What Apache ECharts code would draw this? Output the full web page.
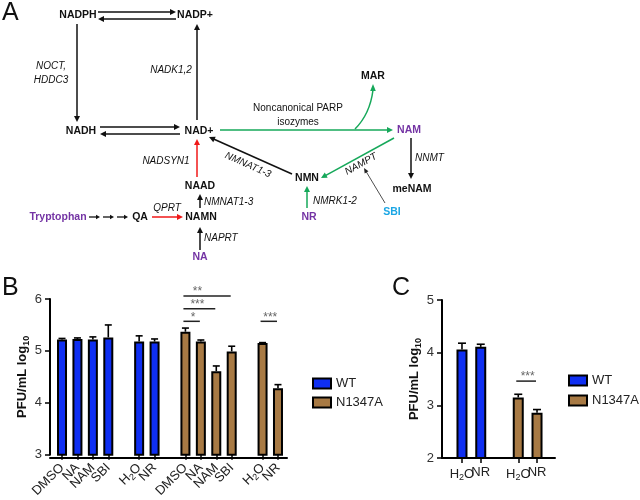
<!DOCTYPE html>
<html><head><meta charset="utf-8">
<script src="https://cdn.jsdelivr.net/npm/echarts@6/dist/echarts.min.js"></script>
<style>html,body{margin:0;padding:0;background:#fff}#c{width:640px;height:500px}</style>
</head><body><div id="c"></div>
<script>
const FONT = '"Liberation Sans", Arial, Helvetica, sans-serif';
const BLUE = '#0F2FF2';
const BROWN = '#A87A44';
const PURPLE = '#7434A4';
const CYAN = '#1BA6E4';
const GREEN = '#16A85A';
const RED = '#F01818';

// ---------- Panel B data ----------
const catsB = ['DMSO','NA','NAM','SBI','','H2O','NR','','DMSO','NA','NAM','SBI','','H2O','NR'];
const wtB     = [5.22,5.23,5.22,5.26,null,5.18,5.18,null,null,null,null,null,null,null,null];
const wtTopB  = [5.24,5.25,5.27,5.50,null,5.29,5.23,null,null,null,null,null,null,null,null];
const mutB    = [null,null,null,null,null,null,null,null,5.37,5.18,4.61,4.99,null,5.15,4.28];
const mutTopB = [null,null,null,null,null,null,null,null,5.44,5.21,4.71,5.09,null,5.16,4.35];
const sigB = [[8,11,6.06],[8,10,5.81],[8,9,5.57],[13,14,5.57]];
const sigLabB = ['**','***','*','***'];
const yTicksB = [3,4,5,6];

// ---------- Panel C data ----------
const catsC = ['H2O','NR','','H2O','NR'];
const wtC     = [4.06,4.11,null,null,null];
const wtTopC  = [4.18,4.16,null,null,null];
const mutC    = [null,null,null,3.15,2.86];
const mutTopC = [null,null,null,3.21,2.92];
const sigC = [[3,4,3.46]];
const sigLabC = ['***'];
const yTicksC = [2,3,4,5];

const legendNames = ['WT','N1347A'];

// ---------- helpers ----------
const fmtLab = s => s === 'H2O' ? 'H{s|2}O' : s;
const dash = a => a.map(v => v == null ? '-' : v);
const keys = a => a.map((_, i) => 'k' + i);

function errSeries(vals, tops, ai, cap) {
  const data = [];
  vals.forEach((v, i) => { if (v != null) data.push([i, v, tops[i]]); });
  return {
    type: 'custom', xAxisIndex: ai, yAxisIndex: ai, z: 3, silent: true,
    encode: { x: 0, y: [1, 2] }, data,
    renderItem: (p, api) => {
      const b = api.coord([api.value(0), api.value(1)]);
      const t = api.coord([api.value(0), api.value(2)]);
      return { type: 'group', children: [
        { type: 'line', shape: { x1: b[0], y1: b[1], x2: t[0], y2: t[1] }, style: { stroke: '#000', lineWidth: 1.6 } },
        { type: 'line', shape: { x1: t[0] - cap, y1: t[1], x2: t[0] + cap, y2: t[1] }, style: { stroke: '#000', lineWidth: 1.6 } }
      ]};
    }
  };
}
function sigSeries(sig, labs, ai) {
  return {
    type: 'custom', xAxisIndex: ai, yAxisIndex: ai, z: 4, silent: true,
    encode: { x: [0, 1], y: 2 }, data: sig,
    renderItem: (p, api) => {
      const a = api.coord([api.value(0), api.value(2)]);
      const b = api.coord([api.value(1), api.value(2)]);
      const w = b[0] - a[0];
      return { type: 'group', children: [
        { type: 'line', shape: { x1: a[0] - 2, y1: a[1], x2: b[0] - 1, y2: a[1] }, style: { stroke: '#222', lineWidth: 1.5 } },
        { type: 'text', x: a[0] + Math.min(w / 2, 12), y: a[1] - 4,
          style: { text: labs[p.dataIndex], fill: '#666', font: '12px ' + FONT, textAlign: 'center', textVerticalAlign: 'middle' } }
      ]};
    }
  };
}

// ---------- diagram (panel A) ----------
const G = [];
function T(s, x, y, o) {
  o = o || {};
  G.push({ type: 'text', x, y, rotation: o.rot || 0, z: 10,
    style: { text: s, fill: o.color || '#111',
      font: (o.style || 'normal') + ' ' + (o.weight || 'bold') + ' ' + (o.size || 10.5) + 'px ' + FONT,
      textAlign: o.align || 'center', textVerticalAlign: 'middle' } });
}
function arrow(x1, y1, x2, y2, color, lw, hl, hw) {
  color = color || '#111'; lw = lw || 1.5; hl = hl || 6; hw = hw || 3;
  const ang = Math.atan2(y2 - y1, x2 - x1);
  const c = Math.cos(ang), s = Math.sin(ang);
  const bx = x2 - hl * c, by = y2 - hl * s;
  G.push({ type: 'line', z: 9, shape: { x1, y1, x2: bx + c, y2: by + s }, style: { stroke: color, lineWidth: lw } });
  G.push({ type: 'polygon', z: 9, shape: { points: [[x2, y2], [bx - hw * s, by + hw * c], [bx + hw * s, by - hw * c]] }, style: { fill: color } });
}
const it = { weight: 'normal', style: 'italic', size: 10 };
const itL = { weight: 'normal', style: 'italic', size: 10, align: 'left' };

T('A', 2, 13, { weight: 'normal', size: 25, align: 'left' });
T('B', 2, 288, { weight: 'normal', size: 25, align: 'left' });
T('C', 392, 288, { weight: 'normal', size: 25, align: 'left' });

T('NADPH', 78, 15); T('NADP+', 195, 15);
arrow(98, 12, 176, 12); arrow(176, 19, 98, 19);
arrow(77, 24, 77, 122);
T('NOCT,', 51, 66, it); T('HDDC3', 51, 80, it);
T('NADH', 81, 131); T('NAD+', 199, 131);
arrow(100, 127, 180, 127); arrow(180, 134, 100, 134);
arrow(197, 120, 197, 24);
T('NADK1,2', 171, 70, it);

arrow(220, 130, 393, 130, GREEN);
T('Noncanonical PARP', 298, 108, { weight: 'normal', size: 10 });
T('isozymes', 298, 122, { weight: 'normal', size: 10 });
G.push({ type: 'bezierCurve', z: 9, shape: { x1: 355, y1: 129, cpx1: 370, cpy1: 114, x2: 373, y2: 90 }, style: { stroke: GREEN, lineWidth: 1.5, fill: 'none' } });
G.push({ type: 'polygon', z: 9, shape: { points: [[373, 84], [370.2, 91], [375.8, 91]] }, style: { fill: GREEN } });
T('MAR', 373, 76);
T('NAM', 409, 130, { color: PURPLE });
arrow(411, 138, 411, 179);
T('NNMT', 415, 158, itL);
T('meNAM', 412, 189);
arrow(394, 138, 321, 178, GREEN);
T('NAMPT', 361, 164, Object.assign({ rot: 29 * Math.PI / 180 }, it));
arrow(385, 203, 364, 168, '#222', 0.8, 5, 2.2);
T('SBI', 392, 212, { color: CYAN });
T('NMN', 307, 178);
arrow(292, 174, 209, 137);
T('NMNAT1-3', 248, 165, Object.assign({ rot: -24 * Math.PI / 180 }, it));
T('NR', 309, 217, { color: PURPLE });
arrow(307, 208, 307, 186, GREEN);
T('NMRK1-2', 313, 201, itL);

T('NADSYN1', 166, 161, it);
arrow(197, 177, 197, 139, RED);
T('NAAD', 200, 186);
arrow(200, 208, 200, 194);
T('NMNAT1-3', 204, 202, itL);
T('NAMN', 201, 217);
T('Tryptophan', 58, 217, { color: PURPLE });
arrow(89, 217, 100, 217, '#111', 1.3, 4, 2.2);
arrow(103, 217, 114, 217, '#111', 1.3, 4, 2.2);
arrow(117, 217, 128, 217, '#111', 1.3, 4, 2.2);
T('QA', 140, 217);
arrow(152, 217, 183, 217, RED);
T('QPRT', 167, 208, it);
arrow(200, 250, 200, 227);
T('NAPRT', 204, 238, itL);
T('NA', 200, 257, { color: PURPLE });

// ---------- chart ----------
const chart = echarts.init(document.getElementById('c'), null, { renderer: 'canvas' });
const axLine = { show: true, lineStyle: { color: '#000', width: 2 } };
const yLabel = { fontSize: 13, color: '#333', fontFamily: FONT, margin: 8 };
const nameStyle = { fontSize: 13, fontWeight: 'bold', color: '#111', fontFamily: FONT,
  rich: { s: { fontSize: 9, fontWeight: 'bold', fontFamily: FONT, color: '#111', padding: [7, 0, 0, 0] } } };
const richSub = { s: { fontSize: 9, fontFamily: FONT, color: '#222', padding: [7, 0, 0, 0] } };

const option = {
  animation: false,
  backgroundColor: '#fff',
  textStyle: { fontFamily: FONT },
  graphic: { elements: G },
  legend: [
    { data: legendNames, orient: 'vertical', left: 307, top: 372, itemWidth: 18, itemHeight: 10, itemGap: 6,
      icon: 'rect', selectedMode: false, itemStyle: { borderColor: '#000', borderWidth: 2 },
      textStyle: { fontSize: 13, color: '#222', fontFamily: FONT } },
    { data: legendNames, orient: 'vertical', left: 563, top: 369, itemWidth: 18, itemHeight: 10, itemGap: 7,
      icon: 'rect', selectedMode: false, itemStyle: { borderColor: '#000', borderWidth: 2 },
      textStyle: { fontSize: 13, color: '#222', fontFamily: FONT } }
  ],
  grid: [
    { left: 54.3, top: 299, width: 231.4, height: 159 },
    { left: 50, top: 299, width: 237, height: 159 },
    { left: 452.6, top: 300, width: 93.8, height: 158 },
    { left: 442, top: 300, width: 113, height: 158 }
  ],
  xAxis: [
    { gridIndex: 0, type: 'category', data: keys(catsB), axisLine: { show: false },
      axisTick: { show: true, alignWithLabel: true, length: 5, lineStyle: { color: '#000', width: 1.5 }, interval: i => catsB[i] !== '' },
      axisLabel: { interval: 0, rotate: 45, fontSize: 13, color: '#222', fontFamily: FONT, margin: 11,
        formatter: (v, i) => fmtLab(catsB[i]), rich: richSub } },
    { gridIndex: 1, type: 'value', min: 0, max: 1, axisLine: axLine, axisTick: { show: false }, axisLabel: { show: false }, splitLine: { show: false } },
    { gridIndex: 2, type: 'category', data: keys(catsC), axisLine: { show: false },
      axisTick: { show: true, alignWithLabel: true, length: 5, lineStyle: { color: '#000', width: 1.5 }, interval: i => catsC[i] !== '' },
      axisLabel: { interval: 0, fontSize: 13, color: '#222', fontFamily: FONT, margin: 8,
        formatter: (v, i) => fmtLab(catsC[i]), rich: richSub } },
    { gridIndex: 3, type: 'value', min: 0, max: 1, axisLine: axLine, axisTick: { show: false }, axisLabel: { show: false }, splitLine: { show: false } }
  ],
  yAxis: [
    { gridIndex: 0, type: 'value', min: yTicksB[0], max: yTicksB[yTicksB.length - 1], interval: 1, offset: 4.3,
      axisLine: axLine, axisTick: { show: true, length: 5, lineStyle: { color: '#000', width: 1.5 } },
      axisLabel: yLabel, splitLine: { show: false },
      name: 'PFU/mL log{s|10}', nameLocation: 'middle', nameGap: 18, nameTextStyle: nameStyle },
    { gridIndex: 1, type: 'value', min: 0, max: 1, show: false },
    { gridIndex: 2, type: 'value', min: yTicksC[0], max: yTicksC[yTicksC.length - 1], interval: 1, offset: 10.6,
      axisLine: axLine, axisTick: { show: true, length: 5, lineStyle: { color: '#000', width: 1.5 } },
      axisLabel: yLabel, splitLine: { show: false },
      name: 'PFU/mL log{s|10}', nameLocation: 'middle', nameGap: 12, nameTextStyle: nameStyle },
    { gridIndex: 3, type: 'value', min: 0, max: 1, show: false }
  ],
  series: [
    { type: 'bar', name: 'WT', xAxisIndex: 0, yAxisIndex: 0, data: dash(wtB), barWidth: 10, barGap: '-100%', z: 2,
      itemStyle: { color: BLUE, borderColor: '#000', borderWidth: 2 } },
    { type: 'bar', name: 'N1347A', xAxisIndex: 0, yAxisIndex: 0, data: dash(mutB), barWidth: 10, barGap: '-100%', z: 2,
      itemStyle: { color: BROWN, borderColor: '#000', borderWidth: 2 } },
    { type: 'bar', name: 'WT', xAxisIndex: 2, yAxisIndex: 2, data: dash(wtC), barWidth: 11, barGap: '-100%', z: 2,
      itemStyle: { color: BLUE, borderColor: '#000', borderWidth: 2 } },
    { type: 'bar', name: 'N1347A', xAxisIndex: 2, yAxisIndex: 2, data: dash(mutC), barWidth: 11, barGap: '-100%', z: 2,
      itemStyle: { color: BROWN, borderColor: '#000', borderWidth: 2 } },
    errSeries(wtB, wtTopB, 0, 3.5),
    errSeries(mutB, mutTopB, 0, 3.5),
    errSeries(wtC, wtTopC, 2, 4),
    errSeries(mutC, mutTopC, 2, 4),
    sigSeries(sigB, sigLabB, 0),
    sigSeries(sigC, sigLabC, 2)
  ]
};
chart.setOption(option);
</script>
</body></html>
